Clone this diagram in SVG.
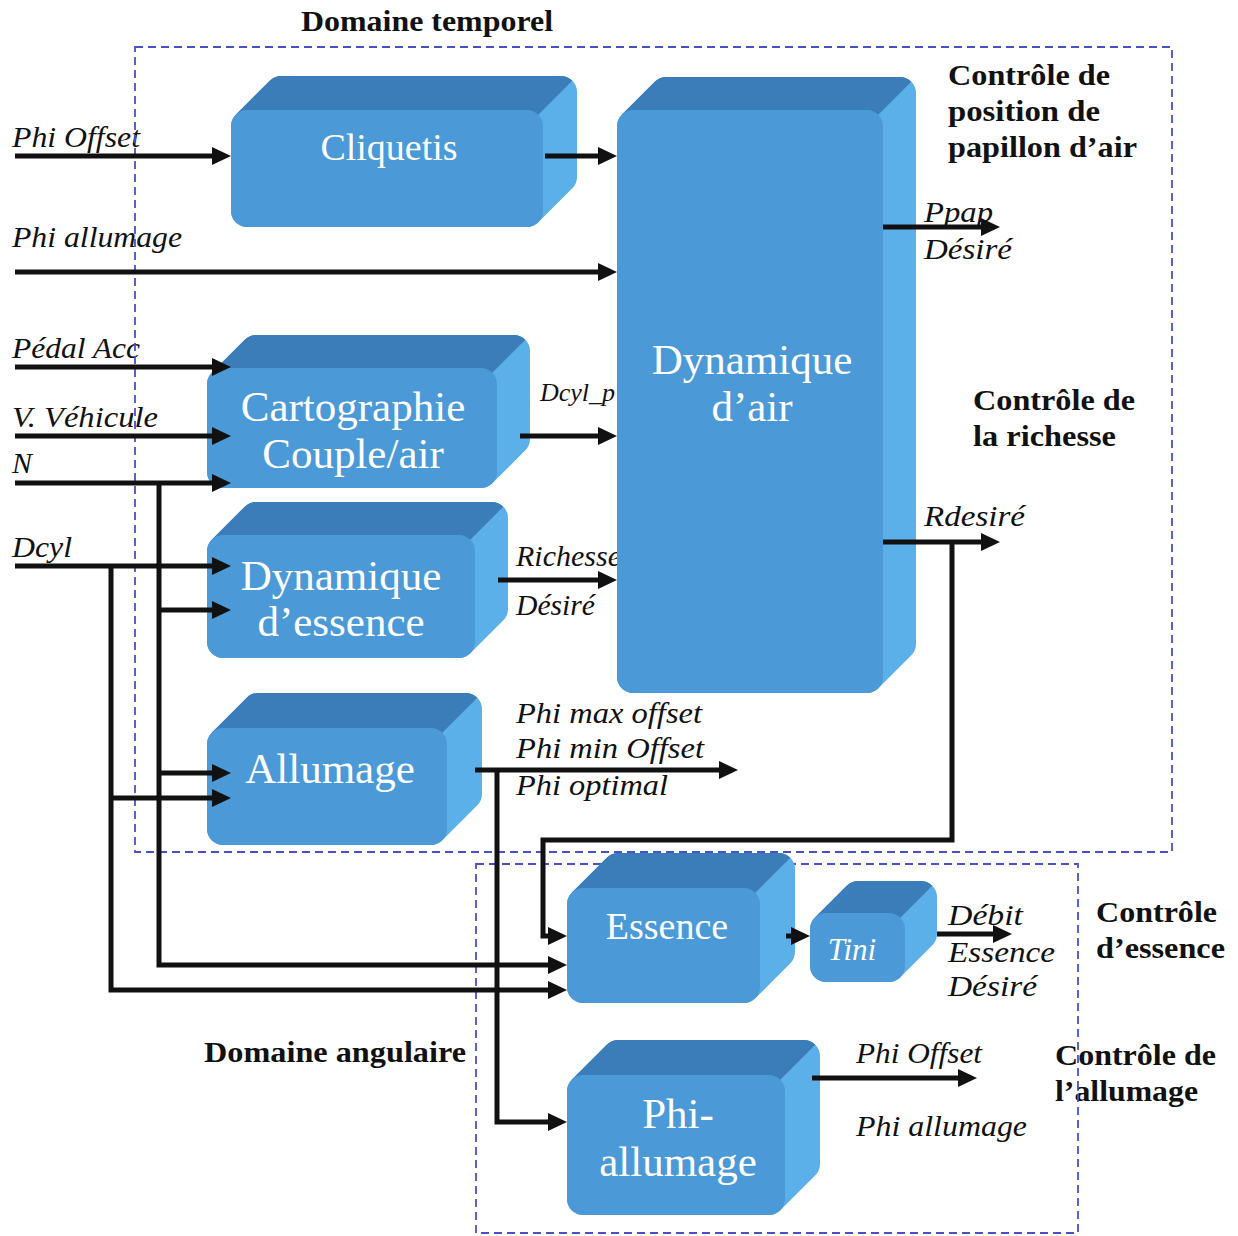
<svg xmlns="http://www.w3.org/2000/svg" width="1238" height="1236" viewBox="0 0 1238 1236">
<style>
.side{fill:#5cb0ea;stroke:#5cb0ea;stroke-width:32;stroke-linejoin:round}
.top{fill:#3b7db9}
.front{fill:#4b9ad7}
.bt{font-family:"Liberation Serif",serif;fill:#ffffff;text-anchor:middle;font-size:43px}
.lab{font-family:"Liberation Serif",serif;font-style:italic;font-size:30px;fill:#111}
.bold{font-family:"Liberation Serif",serif;font-weight:bold;font-size:29px;fill:#111}
.dash{fill:none;stroke:#4a50c8;stroke-width:1.8;stroke-dasharray:8 5}
.ca{fill:none;stroke:#111;stroke-width:5;marker-end:url(#ah)}
</style>
<defs>
<marker id="ah" markerUnits="userSpaceOnUse" markerWidth="20" markerHeight="18" viewBox="0 0 20 18" refX="9" refY="9" orient="auto">
<path d="M0,0 L19,9 L0,18 z" fill="#111"/>
</marker>
</defs>
<rect width="1238" height="1236" fill="#ffffff"/>

<g id="labels">
<text class="bold" x="301" y="31" textLength="252" lengthAdjust="spacingAndGlyphs">Domaine temporel</text>
<text class="bold" x="948" y="85" textLength="162" lengthAdjust="spacingAndGlyphs">Contrôle de</text>
<text class="bold" x="948" y="121" textLength="152" lengthAdjust="spacingAndGlyphs">position de</text>
<text class="bold" x="948" y="157" textLength="189" lengthAdjust="spacingAndGlyphs">papillon d’air</text>
<text class="bold" x="973" y="410" textLength="162" lengthAdjust="spacingAndGlyphs">Contrôle de</text>
<text class="bold" x="973" y="446" textLength="143" lengthAdjust="spacingAndGlyphs">la richesse</text>
<text class="bold" x="1096" y="922" textLength="121" lengthAdjust="spacingAndGlyphs">Contrôle</text>
<text class="bold" x="1096" y="958" textLength="129" lengthAdjust="spacingAndGlyphs">d’essence</text>
<text class="bold" x="1055" y="1065" textLength="161" lengthAdjust="spacingAndGlyphs">Contrôle de</text>
<text class="bold" x="1055" y="1101" textLength="143" lengthAdjust="spacingAndGlyphs">l’allumage</text>
<text class="bold" x="204" y="1062" textLength="262" lengthAdjust="spacingAndGlyphs">Domaine angulaire</text>

<text class="lab" x="12" y="147" textLength="128" lengthAdjust="spacingAndGlyphs">Phi Offset</text>
<text class="lab" x="12" y="247" textLength="170" lengthAdjust="spacingAndGlyphs">Phi allumage</text>
<text class="lab" x="12" y="358" textLength="128" lengthAdjust="spacingAndGlyphs">Pédal Acc</text>
<text class="lab" x="12" y="427" textLength="146" lengthAdjust="spacingAndGlyphs">V. Véhicule</text>
<text class="lab" x="12" y="473">N</text>
<text class="lab" x="12" y="557" textLength="60" lengthAdjust="spacingAndGlyphs">Dcyl</text>
<text class="lab" x="540" y="401" style="font-size:26px">Dcyl_p</text>
<text class="lab" x="516" y="566">Richesse</text>
<text class="lab" x="516" y="615" textLength="79" lengthAdjust="spacingAndGlyphs">Désiré</text>
<text class="lab" x="924" y="222" textLength="69" lengthAdjust="spacingAndGlyphs">Ppap</text>
<text class="lab" x="924" y="259" textLength="88" lengthAdjust="spacingAndGlyphs">Désiré</text>
<text class="lab" x="924" y="526" textLength="101" lengthAdjust="spacingAndGlyphs">Rdesiré</text>
<text class="lab" x="516" y="723" textLength="186" lengthAdjust="spacingAndGlyphs">Phi max offset</text>
<text class="lab" x="516" y="758" textLength="188" lengthAdjust="spacingAndGlyphs">Phi min Offset</text>
<text class="lab" x="516" y="795" textLength="152" lengthAdjust="spacingAndGlyphs">Phi optimal</text>
<text class="lab" x="948" y="925" textLength="75" lengthAdjust="spacingAndGlyphs">Débit</text>
<text class="lab" x="948" y="962" textLength="107" lengthAdjust="spacingAndGlyphs">Essence</text>
<text class="lab" x="948" y="996" textLength="89" lengthAdjust="spacingAndGlyphs">Désiré</text>
<text class="lab" x="856" y="1063" textLength="126" lengthAdjust="spacingAndGlyphs">Phi Offset</text>
<text class="lab" x="856" y="1136" textLength="171" lengthAdjust="spacingAndGlyphs">Phi allumage</text>
</g>

<g id="domaines">
<rect class="dash" x="135" y="47" width="1037" height="805"/>
<rect class="dash" x="476" y="864" width="602" height="369"/>
</g>

<g id="cliquetis">
<polygon class="side" points="247,126 281,92 561,92 561,177 527,211 247,211"/>
<path class="top" d="M235.7,114.7 L269.7,80.7 A16 16 0 0 1 281,76 L561,76 A16 16 0 0 1 572.3,80.7 L538.3,114.7 L527,126 L247,126 Z"/>
<rect class="front" x="231" y="110" width="312" height="117" rx="16"/>
<text class="bt" x="389" y="160" style="font-size:38px">Cliquetis</text>
</g>

<g id="dynamique-air">
<polygon class="side" points="633,126 666,93 900,93 900,644 867,677 633,677"/>
<path class="top" d="M621.7,114.7 L654.7,81.7 A16 16 0 0 1 666,77 L900,77 A16 16 0 0 1 911.3,81.7 L878.3,114.7 L867,126 L633,126 Z"/>
<rect class="front" x="617" y="110" width="266" height="583" rx="16"/>
<text class="bt" x="752" y="374">Dynamique</text>
<text class="bt" x="752" y="421">d’air</text>
</g>

<g id="cartographie">
<polygon class="side" points="223,384 256,351 514,351 514,439 481,472 223,472"/>
<path class="top" d="M211.7,372.7 L244.7,339.7 A16 16 0 0 1 256,335 L514,335 A16 16 0 0 1 525.3,339.7 L492.3,372.7 L481,384 L223,384 Z"/>
<rect class="front" x="207" y="368" width="290" height="120" rx="16"/>
<text class="bt" x="353" y="421">Cartographie</text>
<text class="bt" x="353" y="468">Couple/air</text>
</g>

<g id="dynamique-essence">
<polygon class="side" points="223,551 256,518 492,518 492,609 459,642 223,642"/>
<path class="top" d="M211.7,539.7 L244.7,506.7 A16 16 0 0 1 256,502 L492,502 A16 16 0 0 1 503.3,506.7 L470.3,539.7 L459,551 L223,551 Z"/>
<rect class="front" x="207" y="535" width="268" height="123" rx="16"/>
<text class="bt" x="341" y="590">Dynamique</text>
<text class="bt" x="341" y="636">d’essence</text>
</g>

<g id="allumage">
<polygon class="side" points="223,744 258,709 466,709 466,794 431,829 223,829"/>
<path class="top" d="M211.7,732.7 L246.7,697.7 A16 16 0 0 1 258,693 L466,693 A16 16 0 0 1 477.3,697.7 L442.3,732.7 L431,744 L223,744 Z"/>
<rect class="front" x="207" y="728" width="240" height="117" rx="16"/>
<text class="bt" x="330" y="783">Allumage</text>
</g>

<g id="essence">
<polygon class="side" points="583,904 618,869 779,869 779,952 744,987 583,987"/>
<path class="top" d="M571.7,892.7 L606.7,857.7 A16 16 0 0 1 618,853 L779,853 A16 16 0 0 1 790.3,857.7 L755.3,892.7 L744,904 L583,904 Z"/>
<rect class="front" x="567" y="888" width="193" height="115" rx="16"/>
<text class="bt" x="667" y="939" style="font-size:38px">Essence</text>
</g>

<g id="tini">
<polygon class="side" points="826,929 858,897 921,897 921,934 889,966 826,966"/>
<path class="top" d="M814.7,917.7 L846.7,885.7 A16 16 0 0 1 858,881 L921,881 A16 16 0 0 1 932.3,885.7 L900.3,917.7 L889,929 L826,929 Z"/>
<rect class="front" x="810" y="913" width="95" height="69" rx="16"/>
<text class="bt" x="852" y="960" style="font-size:31px;font-style:italic">Tini</text>
</g>

<g id="phi-allumage">
<polygon class="side" points="583,1091 618,1056 804,1056 804,1164 769,1199 583,1199"/>
<path class="top" d="M571.7,1079.7 L606.7,1044.7 A16 16 0 0 1 618,1040 L804,1040 A16 16 0 0 1 815.3,1044.7 L780.3,1079.7 L769,1091 L583,1091 Z"/>
<rect class="front" x="567" y="1075" width="218" height="140" rx="16"/>
<text class="bt" x="678" y="1128">Phi-</text>
<text class="bt" x="678" y="1176">allumage</text>
</g>

<g id="connectors">
<path class="ca" d="M15,156 H221"/>
<path class="ca" d="M545,156 H607"/>
<path class="ca" d="M15,272 H607"/>
<path class="ca" d="M15,367 H221"/>
<path class="ca" d="M15,436 H221"/>
<path class="ca" d="M15,483 H221"/>
<path class="ca" d="M520,436 H607"/>
<path class="ca" d="M15,566 H221"/>
<path class="ca" d="M159,483 V965 H557"/>
<path class="ca" d="M159,610 H221"/>
<path class="ca" d="M159,773 H221"/>
<path class="ca" d="M111,566 V990 H557"/>
<path class="ca" d="M111,798 H221"/>
<path class="ca" d="M498,580 H607"/>
<path class="ca" d="M883,227 H990"/>
<path class="ca" d="M883,542 H990"/>
<path class="ca" d="M952,542 V840 H543 V936 H557"/>
<path class="ca" d="M475,770 H728"/>
<path class="ca" d="M497,770 V1122 H557"/>
<path class="ca" d="M786,936 H800"/>
<path class="ca" d="M937,934 H1002"/>
<path class="ca" d="M812,1078 H967"/>
</g>
</svg>
